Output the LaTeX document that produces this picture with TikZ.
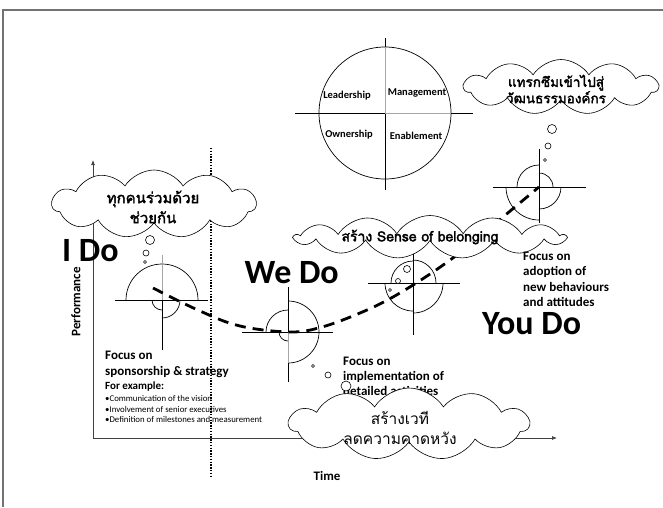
\documentclass[tikz,border=0pt]{standalone}
\usepackage{fontspec}
\setmainfont{Carlito}
\newfontfamily\thaifont[Script=Thai]{Loma}
\newfontfamily\thaibold[Script=Thai, FakeBold=2.2]{Loma}
\usetikzlibrary{shapes.symbols,arrows.meta}
\newcommand\qglyph[6]{%
  \draw[glyph] (#1,#2) ++(180:#3) arc[start angle=180,delta angle=90,radius=#3];
  \draw[glyph] (#1,#2) ++(270:#4) arc[start angle=270,delta angle=90,radius=#4];
  \draw[glyph] (#1,#2) ++(0:#5) arc[start angle=0,delta angle=90,radius=#5];
  \draw[glyph] (#1,#2) ++(90:#6) arc[start angle=90,delta angle=90,radius=#6];
}
\begin{document}
\begin{tikzpicture}[x=1pt,y=-1pt,
  frame/.style={draw=black!55, line width=1.6pt},
  axis/.style={line width=0.7pt, draw=black!75, -{Latex[length=5pt,width=4pt]}},
  glyph/.style={line width=0.7pt},
  glyphgray/.style={line width=0.6pt, draw=black!35},
  dashcurve/.style={line width=2.8pt, dash pattern=on 11pt off 7pt},
  dotline/.style={line width=2pt, dash pattern=on 1.4pt off 1.4pt},
  cloudbox/.style={cloud, cloud puffs=11, cloud puff arc=115, cloud ignores aspect, draw, fill=white, line width=0.6pt, inner sep=0pt},
  bubble/.style={circle, draw, fill=white, line width=0.6pt, inner sep=0pt},
  big/.style={font=\bfseries\fontsize{34}{36}\selectfont, inner sep=0pt},
  lab/.style={inner sep=0pt},
  fb/.style={lab, font=\bfseries\fontsize{13}{15}\selectfont},
  quad/.style={lab, font=\bfseries\fontsize{10.5}{12}\selectfont},
  bul/.style={lab, font=\fontsize{8.8}{10}\selectfont},
]
\useasboundingbox (0,0) rectangle (663,507);

% frame
\draw[frame] (3,507) -- (3,10) -- (663,10);

% axes
\coordinate (origin) at (93,438);
\coordinate (ytip) at (93,160);
\coordinate (xtip) at (557,438);
\draw[axis] (origin) -- (ytip);
\draw[axis] (origin) -- (xtip);

% dotted separator
\coordinate (dtop) at (211,148);
\coordinate (dbot) at (211,476);
\draw[dotline] (dtop) -- (dbot);

% big quadrant circle
\draw[line width=0.7pt] (385,113) circle[radius=66];
\draw[glyph] (385,38) -- (385,47);
\draw[glyphgray] (385,47) -- (385,113);
\draw[glyph] (385,113) -- (385,190);
\draw[glyph] (295,113) -- (385,113);
\draw[glyphgray] (385,113) -- (451,113);
\draw[glyph] (451,113) -- (473,113);
\node[quad] (lead) at (347,96) {Leadership};
\node[quad] (mgmt) at (417,93) {Management};
\node[quad] (own) at (349,135) {Ownership};
\node[quad] (enab) at (416,136) {Enablement};

% glyph 1
\qglyph{162}{300}{36}{36}{18}{10}
\draw[glyph] (115,300) -- (208,300);
\draw[glyphgray] (162,255) -- (162,300);
\draw[glyph] (162,300) -- (162,350);
% glyph 2
\qglyph{288}{332}{22}{31}{31}{9}
\draw[glyph] (242,332) -- (333,332);
\draw[glyph] (288,287) -- (288,332);
\draw[glyphgray] (288,332) -- (288,363);
\draw[glyph] (288,363) -- (288,382);
% glyph 3
\qglyph{413}{283}{22}{23}{30}{28}
\draw[glyph] (368,283) -- (460,283);
\draw[glyph] (413,250) -- (413,335);
% glyph 4
\qglyph{539}{187}{22}{14}{22}{33}
\draw[glyph] (493,187) -- (586,187);
\draw[glyph] (539,149) -- (539,223);

% dashed performance curve
\draw[dashcurve] plot[smooth, tension=0.6] coordinates {(153,288) (200,311) (240,326) (290,332) (322,327) (360,313) (393,297) (433,272) (470,245) (503,217) (539,187)};

% big labels
\node[big, anchor=base west] (ido) at (62,261) {I Do};
\node[big, anchor=base east] (wedo) at (339,283) {We Do};
\node[big, anchor=base west] (youdo) at (482,334) {You Do};

% focus blocks
\node[fb, anchor=base west] (b1) at (343,365) {Focus on};
\node[fb, anchor=base west] (b2) at (343,380.5) {implementation of};
\node[fb, anchor=base west] (b3) at (343,395) {detailed activities};

\node[fb, anchor=base west] (s1) at (105,359) {Focus on};
\node[fb, anchor=base west] (s2) at (105,375) {sponsorship \& strategy};
\node[lab, anchor=base west, font=\bfseries\fontsize{11}{13}\selectfont] (s3) at (105,389) {For example:};
\node[bul, anchor=base west] (s4) at (105,401.5) {•Communication of the vision};
\node[bul, anchor=base west] (s5) at (105,412) {•Involvement of senior executives};
\node[bul, anchor=base west] (s6) at (105,422.5) {•Definition of milestones and measurement};

% axis labels
\node[fb, rotate=90] (perf) at (76,302) {Performance};
\node[fb] (time) at (327,476) {Time};

% clouds
\node[cloudbox, minimum width=204pt, minimum height=68pt] (c1) at (154,204) {};
\node[lab, align=center, font=\thaibold\fontsize{15}{20}\selectfont] (c1t) at (153,207) {ทุกคนร่วมด้วย\\ช่วยกัน};

\node[cloudbox, minimum width=194pt, minimum height=55pt] (c2) at (561,87) {};
\node[lab, align=center, font=\thaibold\fontsize{13.5}{14}\selectfont] (c2t) at (556,89) {แทรกซึมเข้าไปสู่\\วัฒนธรรมองค์กร};

\node[cloudbox, cloud puffs=13, minimum width=270pt, minimum height=43pt] (c3) at (430,237) {};
\node[lab, font=\thaibold\fontsize{14}{17}\selectfont] (c3t) at (420,237) {สร้าง Sense of belonging};

\node[cloudbox, minimum width=240pt, minimum height=72pt] (c4) at (409,424) {};
\node[lab, align=center, font=\thaifont\fontsize{15.5}{20}\selectfont] (c4t) at (400,428) {สร้างเวที\\ลดความคาดหวัง};

% text block right (drawn over cloud edge)
\node[fb, anchor=base west] (a1) at (523,260) {Focus on};
\node[fb, anchor=base west] (a2) at (523,275.5) {adoption of};
\node[fb, anchor=base west] (a3) at (523,291) {new behaviours};
\node[fb, anchor=base west] (a4) at (523,306) {and attitudes};

% thought bubbles
\node[bubble, minimum size=9pt] (b2a) at (552,129) {};
\node[bubble, minimum size=6pt] (b2b) at (548,146) {};
\node[bubble, minimum size=3pt] (b2c) at (545,160) {};
\node[bubble, minimum size=9pt] (b1a) at (150,240) {};
\node[bubble, minimum size=6pt] (b1b) at (146,253) {};
\node[bubble, minimum size=3pt] (b1c) at (145,262) {};
\node[bubble, minimum size=7pt] (b3a) at (407,269) {};
\node[bubble, minimum size=5pt] (b3b) at (398,281) {};
\node[bubble, minimum size=3pt] (b3c) at (390,290) {};
\node[bubble, minimum size=3pt] (b4a) at (313,366) {};
\node[bubble, minimum size=6pt] (b4b) at (328,375) {};
\node[bubble, minimum size=10pt] (b4c) at (346,386) {};
\end{tikzpicture}
\end{document}
